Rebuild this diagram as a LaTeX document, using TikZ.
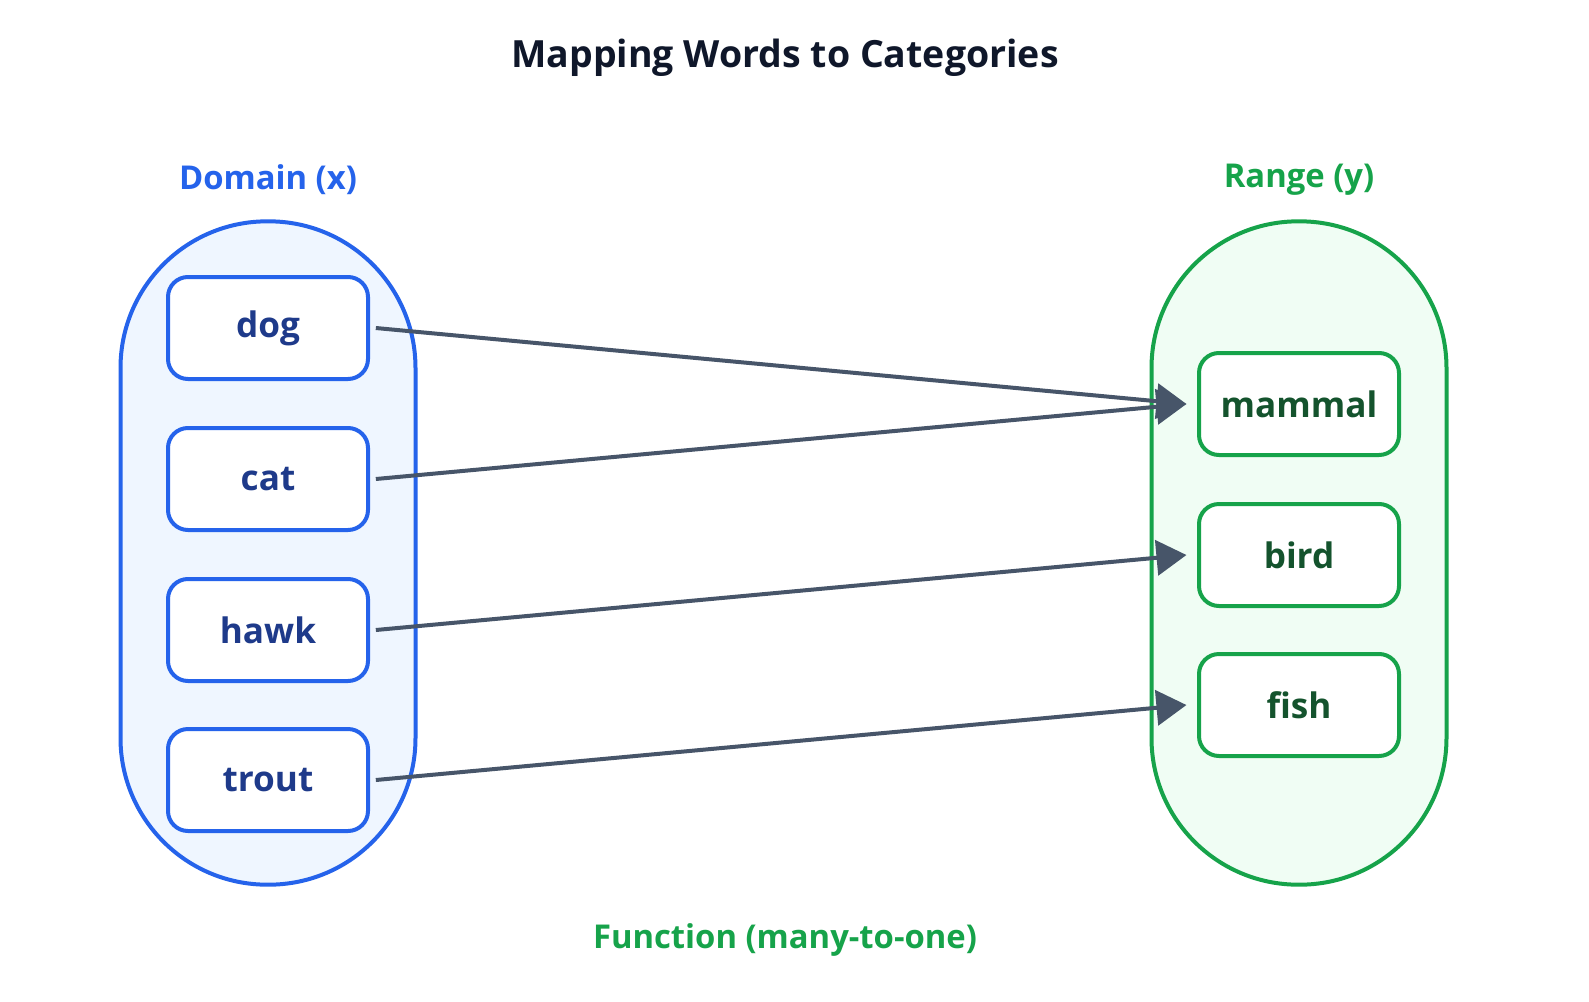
\documentclass[tikz,border=0pt]{standalone}
\usepackage{fontspec}
\setmainfont{Open Sans}
\usetikzlibrary{arrows.meta}
\definecolor{domblue}{HTML}{2563EB}
\definecolor{domfill}{HTML}{EFF6FF}
\definecolor{domtext}{HTML}{1E3A8A}
\definecolor{rangreen}{HTML}{16A34A}
\definecolor{ranfill}{HTML}{F0FDF4}
\definecolor{rantext}{HTML}{14532D}
\definecolor{arr}{HTML}{475569}
\definecolor{titlec}{HTML}{0F172A}
\tikzset{set/.style = {rectangle, rounded corners=44mm, line width=1.2mm, minimum width=88.5mm, minimum height=199mm, inner sep=0pt},
         el/.style = {draw, rounded corners=6mm, line width=1.2mm, fill=white, minimum width=60mm, minimum height=30.6mm,
                      inner sep=0pt, font=\fontsize{30}{30}\selectfont\bfseries},
         mp/.style = {draw=arr, line width=1.2mm, -{Triangle[length=9mm, width=10.5mm]}},
         lab/.style = {font=\fontsize{28}{28}\selectfont\bfseries}}
\begin{document}
\begin{tikzpicture}[x=0.3mm, y=-0.3mm]
    \useasboundingbox[fill=white] (0,0) rectangle (1589,1002);
    \node[font=\fontsize{32}{32}\selectfont\bfseries, text=titlec] (title) at (785,58) {Mapping Words to Categories};
    \node[lab, text=domblue] (dlab) at (268,180) {Domain (x)};
    \node[lab, text=rangreen] (rlab) at (1299,180) {Range (y)};
    \node[lab, text=rangreen] (flab) at (785,940) {Function (many-to-one)};
    \node[set, draw=domblue, fill=domfill] (dom) at (268,553) {};
    \node[set, draw=rangreen, fill=ranfill] (ran) at (1299,553) {};
    \node[el, draw=domblue, text=domtext] (dog) at (268,328) {dog};
    \node[el, draw=domblue, text=domtext] (cat) at (268,479) {cat};
    \node[el, draw=domblue, text=domtext] (hawk) at (268,630) {hawk};
    \node[el, draw=domblue, text=domtext] (trout) at (268,780) {trout};
    \node[el, draw=rangreen, text=rantext] (mammal) at (1299,404) {mammal};
    \node[el, draw=rangreen, text=rantext] (bird) at (1299,555) {bird};
    \node[el, draw=rangreen, text=rantext] (fish) at (1299,705) {fish};
    \draw[mp] ([xshift=5]dog.east) -- ([xshift=-9]mammal.west);
    \draw[mp] ([xshift=5]cat.east) -- ([xshift=-9]mammal.west);
    \draw[mp] ([xshift=5]hawk.east) -- ([xshift=-9]bird.west);
    \draw[mp] ([xshift=5]trout.east) -- ([xshift=-9]fish.west);
\end{tikzpicture}
\end{document}
